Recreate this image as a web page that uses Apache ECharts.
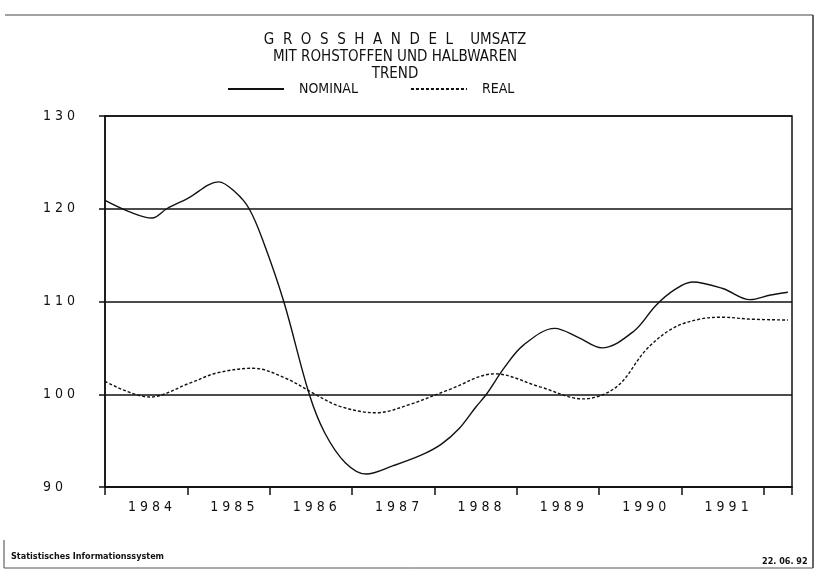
<!DOCTYPE html>
<html>
<head>
<meta charset="utf-8">
<script src="https://cdn.jsdelivr.net/npm/echarts@6/dist/echarts.min.js"></script>
<style>
  html, body {margin: 0; padding: 0; background: #fff;}
  #chart {width: 819px; height: 571px;}
</style>
</head>
<body>
<div id="chart"></div>
<script>
// time positions are decimal years (Jan 1984 = 1984.00)
const nominalYears = [1984.00, 1984.29, 1984.57, 1984.75, 1985.00, 1985.38, 1985.58, 1985.75, 1985.92,
    1986.17, 1986.48, 1986.67, 1986.92, 1987.17, 1987.50, 1987.83, 1988.08, 1988.30, 1988.50, 1988.63,
    1988.85, 1989.08, 1989.46, 1989.75, 1990.03, 1990.42, 1990.69, 1990.92, 1991.13, 1991.50, 1991.83,
    1992.08, 1992.29]
const nominalValues = [120.9, 119.7, 119.0, 120.0, 121.1, 122.9, 121.8, 120.0, 116.5,
    110.0, 100.0, 95.8, 92.6, 91.4, 92.3, 93.4, 94.6, 96.3, 98.6, 100.0,
    102.9, 105.3, 107.1, 106.1, 105.0, 106.8, 109.6, 111.3, 112.1, 111.4, 110.2,
    110.7, 111.0]

const realYears = [1984.00, 1984.54, 1985.03, 1985.36, 1985.80, 1986.20, 1986.53, 1986.85, 1987.29,
    1987.70, 1988.18, 1988.73, 1989.28, 1989.80, 1990.21, 1990.57, 1990.89, 1991.22, 1991.50,
    1991.83, 1992.29]
const realValues = [101.4, 99.7, 101.2, 102.3, 102.8, 101.7, 100.1, 98.7, 98.0,
    98.9, 100.5, 102.2, 100.8, 99.5, 100.8, 104.8, 107.1, 108.1, 108.3,
    108.1, 108.0]

const yTicks = [90, 100, 110, 120, 130]
const titleLines = ["G  R  O  S  S  H  A  N  D  E  L    UMSATZ", "MIT ROHSTOFFEN UND HALBWAREN", "TREND"]

const plotFont = "'DejaVu Sans Condensed', 'Liberation Sans Narrow', 'Liberation Sans', sans-serif"
const spaced = (s) => String(s).split("").join(" ")
const pairs = (xs, ys) => xs.map((x, i) => [x, ys[i]])

const chart = echarts.init(document.getElementById("chart"), null, {renderer: "canvas"})

const option = {
    backgroundColor: "#fff",
    animation: false,
    title: {
        text: titleLines.join("\n"),
        left: 390,
        top: 27,
        textAlign: "center",
        textStyle: {
            fontFamily: plotFont, fontSize: 15, fontWeight: "normal",
            color: "#111", lineHeight: 17
        }
    },
    legend: {
        left: 222,
        top: 77,
        itemWidth: 56,
        itemHeight: 12,
        itemGap: 52,
        data: ["NOMINAL", "REAL"],
        itemStyle: {opacity: 0},
        textStyle: {fontFamily: plotFont, fontSize: 14, color: "#111", padding: [0, 0, 0, 10]}
    },
    grid: {
        left: 105, right: 27, top: 116, bottom: 84,
        show: true, borderColor: "#111", borderWidth: 1.5
    },
    xAxis: {
        type: "value",
        min: 1984,
        max: 1992.34,
        interval: 1,
        axisLine: {lineStyle: {color: "#111", width: 1.5}},
        axisTick: {length: 8, lineStyle: {color: "#111", width: 1.5}},
        splitLine: {show: false},
        axisLabel: {
            margin: 13,
            fontFamily: plotFont, fontSize: 14, color: "#111",
            padding: [0, 0, 0, 90],
            formatter: (v) => (Number.isInteger(v) && v < 1992 ? spaced(v) : "")
        }
    },
    yAxis: {
        type: "value",
        min: yTicks[0],
        max: yTicks[yTicks.length - 1],
        interval: 10,
        axisLine: {show: true, lineStyle: {color: "#111", width: 1.5}},
        axisTick: {show: true, length: 6, lineStyle: {color: "#111", width: 1.5}},
        splitLine: {show: true, lineStyle: {color: "#111", width: 1.5}},
        axisLabel: {
            margin: 62, align: "left",
            fontFamily: plotFont, fontSize: 14, color: "#111",
            formatter: (v) => spaced(v)
        }
    },
    graphic: [
        {type: "line", shape: {x1: 5, y1: 15, x2: 813, y2: 15}, style: {stroke: "#444", lineWidth: 1}},
        {type: "line", shape: {x1: 813, y1: 15, x2: 813, y2: 568}, style: {stroke: "#333", lineWidth: 1.5}},
        {type: "line", shape: {x1: 4, y1: 540, x2: 4, y2: 568}, style: {stroke: "#444", lineWidth: 1}},
        {type: "line", shape: {x1: 4, y1: 568, x2: 813, y2: 568}, style: {stroke: "#555", lineWidth: 1}},
        {
            type: "text", left: 11, top: 552,
            style: {text: "Statistisches Informationssystem", font: "bold 9px " + plotFont, fill: "#111"}
        },
        {
            type: "text", left: 762, top: 557,
            style: {text: "22. 06. 92", font: "bold 9px " + plotFont, fill: "#111"}
        }
    ],
    series: [
        {
            name: "NOMINAL",
            type: "line",
            data: pairs(nominalYears, nominalValues),
            smooth: 0.35,
            symbol: "none",
            itemStyle: {color: "#111"},
            lineStyle: {color: "#111", width: 1.4}
        },
        {
            name: "REAL",
            type: "line",
            data: pairs(realYears, realValues),
            smooth: 0.35,
            symbol: "none",
            itemStyle: {color: "#111"},
            lineStyle: {color: "#111", width: 1.4, type: [3, 2]}
        }
    ]
}

chart.setOption(option)
window.addEventListener("resize", () => chart.resize())
</script>
</body>
</html>
